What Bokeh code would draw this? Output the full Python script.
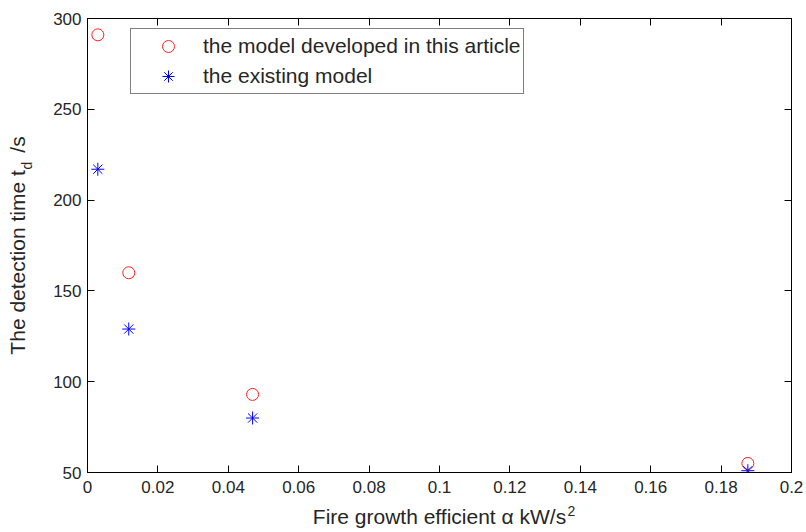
from bokeh.plotting import figure
from bokeh.models import (Range1d, LinearAxis, FixedTicker, CustomJSTickFormatter,
                          Legend, LegendItem)
from bokeh.embed import file_html
from bokeh.resources import INLINE

# ---- data ----
alpha = [0.00293, 0.01172, 0.0469, 0.1876]
t_article = [291, 160, 93, 55]
t_existing = [217, 129, 80, 51]
x_ticks = [0.0, 0.02, 0.04, 0.06, 0.08, 0.1, 0.12, 0.14, 0.16, 0.18, 0.2]
y_ticks = [50, 100, 150, 200, 250, 300]
label_article = "the model developed in this article"
label_existing = "the existing model"
x_title = "Fire growth efficient \u03b1 kW/s"
x_title_sup = "2"
y_title = "The detection time t\u00a0\u00a0\u00a0/s"
y_title_sub = "d"

FONT = "Liberation Sans"
TXT = "#262626"
W, H = 806, 532
ML, MR, MT, MB = 87, 15, 18, 60
FW, FH = W - ML - MR, H - MT - MB

p = figure(width=W, height=H, output_backend="svg", toolbar_location=None,
           x_range=Range1d(0, 0.2), y_range=Range1d(50, 300),
           x_axis_type=None, y_axis_type=None,
           min_border_left=ML, min_border_right=MR, min_border_top=MT, min_border_bottom=MB)
p.extra_x_ranges = {"lab": Range1d(0, FW)}
p.extra_y_ranges = {"lab": Range1d(0, FH)}
p.background_fill_color = "white"
p.border_fill_color = "white"
p.outline_line_color = "black"
p.xgrid.visible = False
p.ygrid.visible = False

fmt = CustomJSTickFormatter(code="var s = tick.toFixed(2); s = s.replace(/0+$/, '').replace(/\\.$/, ''); return s;")
blank = CustomJSTickFormatter(code="return '';")

def make_axis(ticks, formatter):
    ax = LinearAxis(ticker=FixedTicker(ticks=ticks), formatter=formatter)
    ax.axis_line_color = "black"
    ax.axis_line_width = 1
    ax.major_tick_line_color = "black"
    ax.major_tick_in = 7
    ax.major_tick_out = 0
    ax.minor_tick_line_color = None
    ax.major_label_text_font = FONT
    ax.major_label_text_color = TXT
    ax.major_label_text_font_size = "17px"
    return ax

xb = make_axis(x_ticks, fmt)
xb.major_label_standoff = 8
yl = make_axis(y_ticks, fmt)
yl.major_label_standoff = 6
xt = make_axis(x_ticks, blank)
xt.major_label_standoff = 0
yr = make_axis(y_ticks, blank)
yr.major_label_standoff = 0
p.add_layout(xb, "below")
p.add_layout(yl, "left")
p.add_layout(xt, "above")
p.add_layout(yr, "right")

# ---- axis titles: an outer axis per side carries the title and its sub/superscript ----
def title_axis(range_name, pos, small_text, title, is_x):
    if is_x:
        ax = LinearAxis(x_range_name=range_name)
    else:
        ax = LinearAxis(y_range_name=range_name)
    ax.ticker = FixedTicker(ticks=[pos])
    ax.formatter = CustomJSTickFormatter(code="return '%s';" % small_text)
    ax.axis_line_color = None
    ax.major_tick_line_color = None
    ax.minor_tick_line_color = None
    ax.major_tick_in = 0
    ax.major_tick_out = 0
    ax.major_label_text_font = FONT
    ax.major_label_text_color = TXT
    ax.major_label_text_font_size = "14px"
    ax.axis_label = title
    ax.axis_label_text_font = FONT
    ax.axis_label_text_font_style = "normal"
    ax.axis_label_text_font_size = "21px"
    ax.axis_label_text_color = TXT
    return ax

xlab = title_axis("lab", FW / 2 + 132, x_title_sup, x_title, True)
xlab.major_label_standoff = 10
xlab.axis_label_standoff = -14
ylab = title_axis("lab", FH / 2 + 80, y_title_sub, y_title, False)
ylab.major_label_orientation = "parallel"
ylab.major_label_standoff = 16
ylab.axis_label_standoff = -13
p.add_layout(xlab, "below")
p.add_layout(ylab, "left")

r1 = p.scatter(alpha, t_article, marker="circle", size=12, fill_color=None,
               line_color="#FF2020", line_width=1)
r2 = p.scatter(alpha, t_existing, marker="asterisk", size=13,
               line_color="#0000FF", line_width=1)

legend = Legend(items=[LegendItem(label=label_article, renderers=[r1]),
                       LegendItem(label=label_existing, renderers=[r2])],
                location=(43, 378))
legend.label_text_font = FONT
legend.label_text_font_size = "21px"
legend.label_text_color = TXT
legend.border_line_color = "black"
legend.border_line_width = 1
legend.background_fill_color = "white"
legend.background_fill_alpha = 1
legend.padding = 2
legend.spacing = 0
legend.margin = 0
legend.glyph_height = 30
legend.glyph_width = 70
legend.label_height = 30
legend.label_standoff = 0
p.add_layout(legend, "center")

open("out.html", "w").write(file_html(p, INLINE))
